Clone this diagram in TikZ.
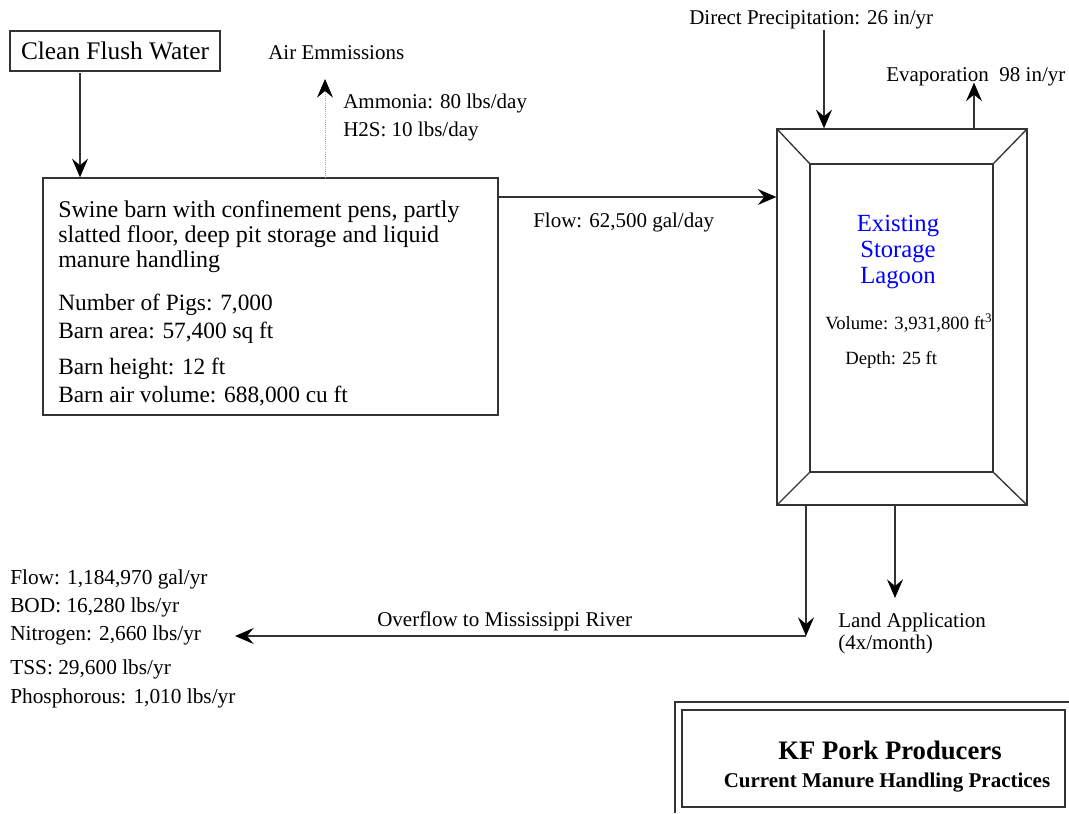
\documentclass[tikz,border=0pt]{standalone}
\usepackage{fontspec}
\setmainfont{Liberation Serif}
\usetikzlibrary{arrows.meta, positioning}

\tikzset{
	line/.style={draw=black!80, line width=1pt},
	flow/.style={line, -{Stealth[length=14pt, width=12pt, inset=5pt, color=black]}},
	air/.style={draw=black!35, densely dotted, line width=0.6pt, -{Stealth[length=14pt, width=12pt, inset=5pt, color=black]}},
	txt/.style={inner sep=0, anchor=west, text height=1.05em, text depth=0.05em, font=\fontsize{15.75}{19}\selectfont},
	barntxt/.style={txt, font=\fontsize{17.5}{21}\selectfont},
}

\begin{document}
\begin{tikzpicture}[x=0.75pt, y=-0.75pt]
	\useasboundingbox (0,0) rectangle (1069,813);

	\coordinate (cw) at (80,73);
	\coordinate (airbase) at (325,178);
	\coordinate (airtip) at (325,79);
	\coordinate (fl) at (498,197);
	\coordinate (pr) at (824,30);
	\coordinate (ev) at (974,129);
	\coordinate (ov) at (806,505);
	\coordinate (ovc) at (806,636);
	\coordinate (ovend) at (235,636);
	\coordinate (la) at (895,505);

	% boxes
	\node [line, minimum width=157.5pt, minimum height=30pt, inner sep=0, font=\fontsize{19}{22}\selectfont] (clean) at (115,51) {Clean Flush Water};
	\node [line, minimum width=341.25pt, minimum height=177.75pt] (barn) at (270.5,296.5) {};
	\node [line, minimum width=187.5pt, minimum height=282pt] (lagoon) at (902,317) {};
	\node [line, minimum width=287.25pt, minimum height=72.75pt] (title) at (873.5,758.5) {};

	% lagoon bevel
	\coordinate (inw) at (810,164);
	\coordinate (ine) at (993,164);
	\coordinate (ise) at (993,472);
	\coordinate (isw) at (810,472);
	\draw [line] (inw) -- (ine) -- (ise) -- (isw) -- cycle;
	\draw [line] (lagoon.north west) -- (inw);
	\draw [line] (lagoon.north east) -- (ine);
	\draw [line] (lagoon.south east) -- (ise);
	\draw [line] (lagoon.south west) -- (isw);

	\draw [line] (675,813) -- (675,702) -- (1069,702);

	% barn text
	\node [barntxt, font=\fontsize{18}{18.75}\selectfont, align=left, text height=, text depth=, anchor=north west] (barnhead) at (58,200) {Swine barn with confinement pens, partly\\slatted floor, deep pit storage and liquid\\manure handling};
	\node [barntxt] (pigs) at (58,304) {Number of Pigs: 7,000};
	\node [barntxt] (area) at (58,332) {Barn area: 57,400 sq ft};
	\node [barntxt] (height) at (58,368) {Barn height: 12 ft};
	\node [barntxt] (airvol) at (58,396) {Barn air volume: 688,000 cu ft};

	\node [txt] (airtext) at (268,53) {Air Emmissions};
	\node [txt] (ammonia) at (343,102) {Ammonia: 80 lbs/day};
	\node [txt] (htwos) at (343,130) {H2S: 10 lbs/day};
	\node [txt] (flowtext) at (533,221) {Flow: 62,500 gal/day};
	\node [txt] (precip) at (689,18) {Direct Precipitation: 26 in/yr};
	\node [txt] (evap) at (886,75) {Evaporation~~98 in/yr};

	\node [font=\fontsize{18.5}{19.2}\selectfont, text=blue, align=center, inner sep=0] (lagname) at (898,252) {Existing\\Storage\\Lagoon};
	\node [txt, font=\fontsize{14}{17}\selectfont] (volume) at (825,323) {Volume: 3,931,800 ft\textsuperscript{3}};
	\node [txt, font=\fontsize{14}{17}\selectfont] (depth) at (845,358) {Depth: 25 ft};

	\node [txt] (overtext) at (377,620) {Overflow to Mississippi River};
	\node [txt, align=left, font=\fontsize{15.75}{16.5}\selectfont, text height=, text depth=] (land) at (838,633) {Land Application\\(4x/month)};

	\node [txt, font=\fontsize{16}{19}\selectfont] (oflow) at (10,578) {Flow: 1,184,970 gal/yr};
	\node [txt, font=\fontsize{16}{19}\selectfont] (obod) at (10,606) {BOD: 16,280 lbs/yr};
	\node [txt, font=\fontsize{16}{19}\selectfont] (onit) at (10,634) {Nitrogen: 2,660 lbs/yr};
	\node [txt, font=\fontsize{16}{19}\selectfont] (otss) at (10,668) {TSS: 29,600 lbs/yr};
	\node [txt, font=\fontsize{16}{19}\selectfont] (ophos) at (10,697) {Phosphorous: 1,010 lbs/yr};

	\node [font=\bfseries\fontsize{20}{24}\selectfont, inner sep=0] (kf) at (890,750) {KF Pork Producers};
	\node [font=\bfseries\fontsize{15.75}{19}\selectfont, inner sep=0] (practices) at (887,783) {Current Manure Handling Practices};

	% connectors
	\draw [flow] (cw) -- (cw |- barn.north);
	\draw [air] (airbase) -- (airtip);
	\draw [flow] (fl) -- (fl -| lagoon.west);
	\draw [flow] (pr) -- (pr |- lagoon.north);
	\draw [flow] (ev) -- (ev |- evap.south);
	\draw [flow] (ov) -- (ovc);
	\draw [flow] (ovc) -- (ovend);
	\draw [flow] (la) -- ++(0,93);
\end{tikzpicture}
\end{document}
